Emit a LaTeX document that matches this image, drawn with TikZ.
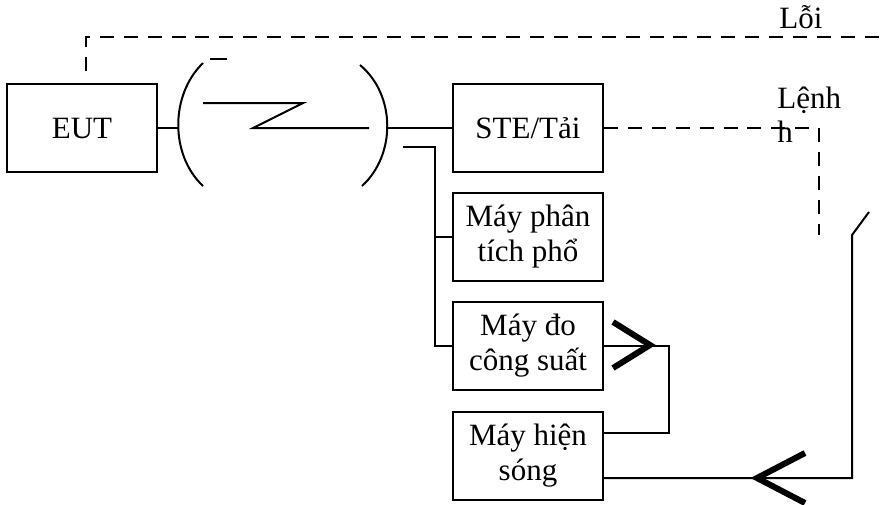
\documentclass[tikz,border=0pt]{standalone}
\usepackage{fontspec}
\setmainfont{Liberation Serif}
\begin{document}
\begin{tikzpicture}[x=1pt,y=-1pt,line width=2pt,
  box/.style={draw,minimum width=150pt,minimum height=88pt,align=center,inner sep=0pt},
  sig/.style={dash pattern=on 14pt off 9.9pt},
  tip/.style={line width=6pt},
  every node/.style={font=\fontsize{31}{35}\selectfont}]
\useasboundingbox (0,0) rectangle (880,504);
\node[box] (eut) at (82,128) {EUT};
\node[box] (ste) at (528,128) {STE/Tải};
\node[box] (pt) at (528,237) {Máy phân\\tích phổ};
\node[box] (cs) at (528,346) {Máy đo\\công suất};
\node[box] (hs) at (528,456) {Máy hiện\\sóng};
\node[anchor=base west] (loi) at (775,28) {Lỗi};
\node[anchor=base west] (lenh) at (773,108) {Lệnh};
\node[anchor=base west] (lenhh) at (773,142) {h};

% link
\draw (eut.east) -- ++(20,0);
\draw (203,63) .. controls (170,95) and (170,155) .. (203,186);
\draw (360,65) .. controls (396,95) and (396,155) .. (362,186);
\draw (210,59) -- (227,59);
\draw (203,103) -- (303,103) -- (253,128) -- (369,128);
\draw (ste.west) -- ++(-64,0);

% measurement branch
\draw (cs.west) -- ++(-17,0) |- (403,147);
\draw (pt.west) -- ++(-17,0);
\draw (cs.east) -- ++(65,0) |- ([yshift=23pt]hs.east);
\coordinate (sw) at (852,235);
\draw ([yshift=-22pt]hs.east) -| (sw) -- ++(17,-23);
\draw[tip] (613,322) -- (650,345) -- (613,368);
\draw[tip] (805,453) -- (757,478) -- (805,503);

% control lines
\draw[sig] ([xshift=4pt]eut.north) ++(0,-12) |- (880,37);
\draw[sig] (ste.east) -| (819,235);
\end{tikzpicture}
\end{document}
